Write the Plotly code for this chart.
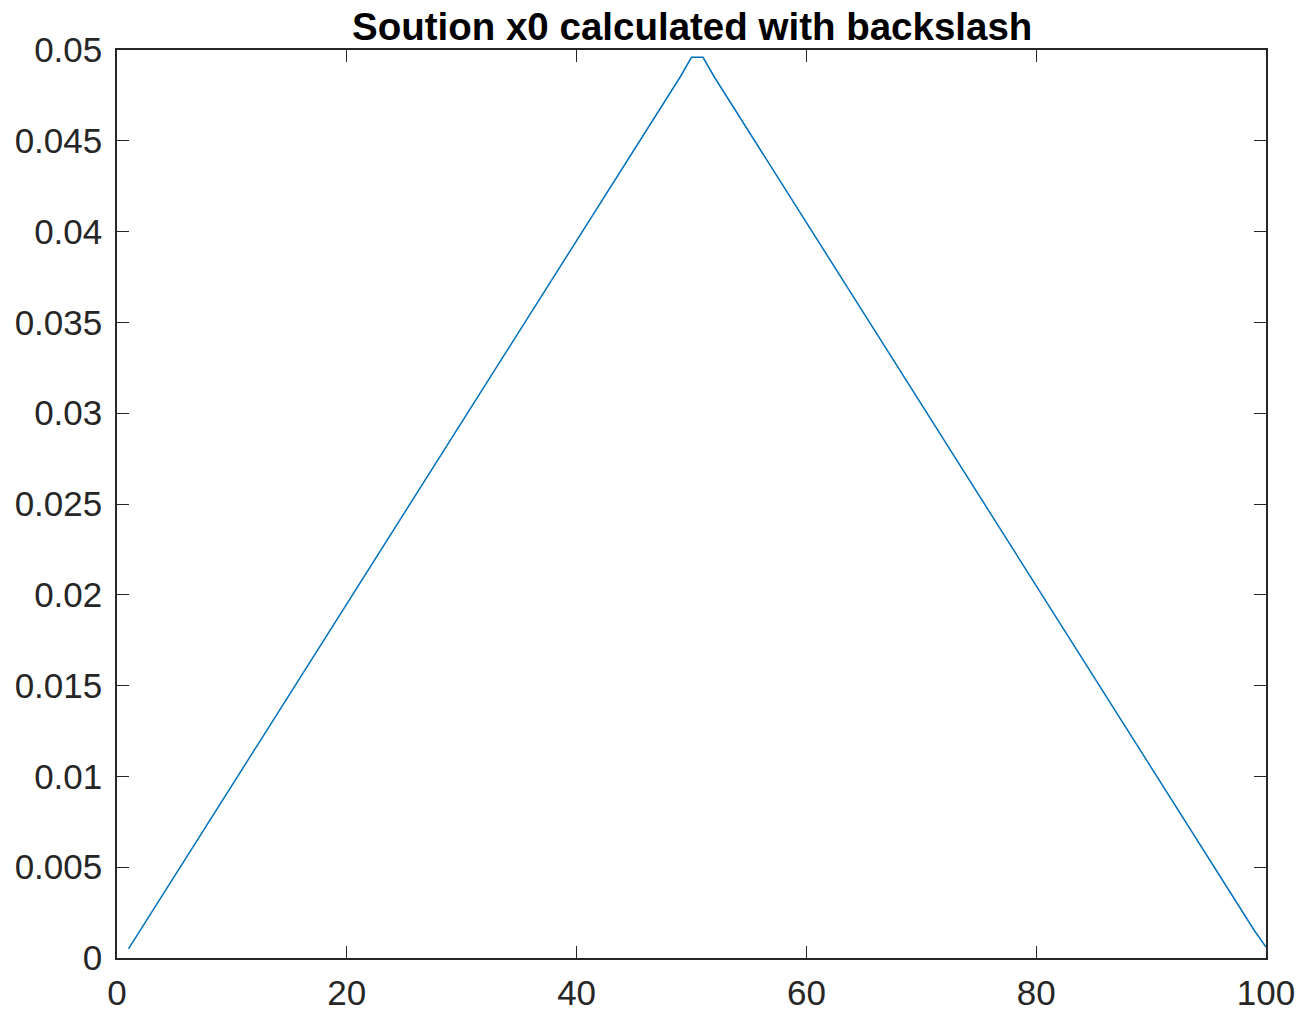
import plotly.graph_objects as go

x_index = list(range(1, 101))
x0_values = [
    0.0005, 0.0015, 0.0025, 0.0035, 0.0045, 0.0055, 0.0065, 0.0075, 0.0085, 0.0095,
    0.0105, 0.0115, 0.0125, 0.0135, 0.0145, 0.0155, 0.0165, 0.0175, 0.0185, 0.0195,
    0.0205, 0.0215, 0.0225, 0.0235, 0.0245, 0.0255, 0.0265, 0.0275, 0.0285, 0.0295,
    0.0305, 0.0315, 0.0325, 0.0335, 0.0345, 0.0355, 0.0365, 0.0375, 0.0385, 0.0395,
    0.0405, 0.0415, 0.0425, 0.0435, 0.0445, 0.0455, 0.0465, 0.0475, 0.0485, 0.0496,
    0.0496, 0.0485, 0.0475, 0.0465, 0.0455, 0.0445, 0.0435, 0.0425, 0.0415, 0.0405,
    0.0395, 0.0385, 0.0375, 0.0365, 0.0355, 0.0345, 0.0335, 0.0325, 0.0315, 0.0305,
    0.0295, 0.0285, 0.0275, 0.0265, 0.0255, 0.0245, 0.0235, 0.0225, 0.0215, 0.0205,
    0.0195, 0.0185, 0.0175, 0.0165, 0.0155, 0.0145, 0.0135, 0.0125, 0.0115, 0.0105,
    0.0095, 0.0085, 0.0075, 0.0065, 0.0055, 0.0045, 0.0035, 0.0025, 0.0015, 0.0006,
]
x_tickvals = [0, 20, 40, 60, 80, 100]
x_ticktext = ["0", "20", "40", "60", "80", "100"]
y_tickvals = [0, 0.005, 0.01, 0.015, 0.02, 0.025, 0.03, 0.035, 0.04, 0.045, 0.05]
y_ticktext = ["0", "0.005", "0.01", "0.015", "0.02", "0.025", "0.03", "0.035", "0.04", "0.045", "0.05"]
title_text = "Soution x0 calculated with backslash"

axis_color = "#262626"
font_family = "Liberation Sans, Arial, sans-serif"

fig = go.Figure()
fig.add_trace(go.Scatter(
    x=x_index, y=x0_values, mode="lines",
    line=dict(color="#0072BD", width=1.5),
    showlegend=False, hoverinfo="skip",
))

axis_common = dict(
    showline=True, linecolor=axis_color, linewidth=1.5, mirror="ticks",
    ticks="inside", ticklen=12, tickwidth=1.2, tickcolor=axis_color,
    showgrid=False, zeroline=False, automargin=False,
    tickfont=dict(family=font_family, size=35, color=axis_color),
)

fig.update_layout(
    width=1312, height=1013,
    margin=dict(l=117, r=46, t=50, b=55),
    paper_bgcolor="white", plot_bgcolor="white",
    xaxis=dict(range=[0, 100], tickmode="array", tickvals=x_tickvals, ticktext=x_ticktext,
               ticklabelstandoff=3, **axis_common),
    yaxis=dict(range=[0, 0.05], tickmode="array", tickvals=y_tickvals, ticktext=y_ticktext,
               ticklabelstandoff=6, **axis_common),
    annotations=[dict(
        text="<b>" + title_text + "</b>", xref="paper", yref="paper",
        x=0.5, y=1, yanchor="bottom", xanchor="center", yshift=0, showarrow=False,
        font=dict(family=font_family, size=38.5, color="black"),
    )],
)

fig.write_html("out.html")
